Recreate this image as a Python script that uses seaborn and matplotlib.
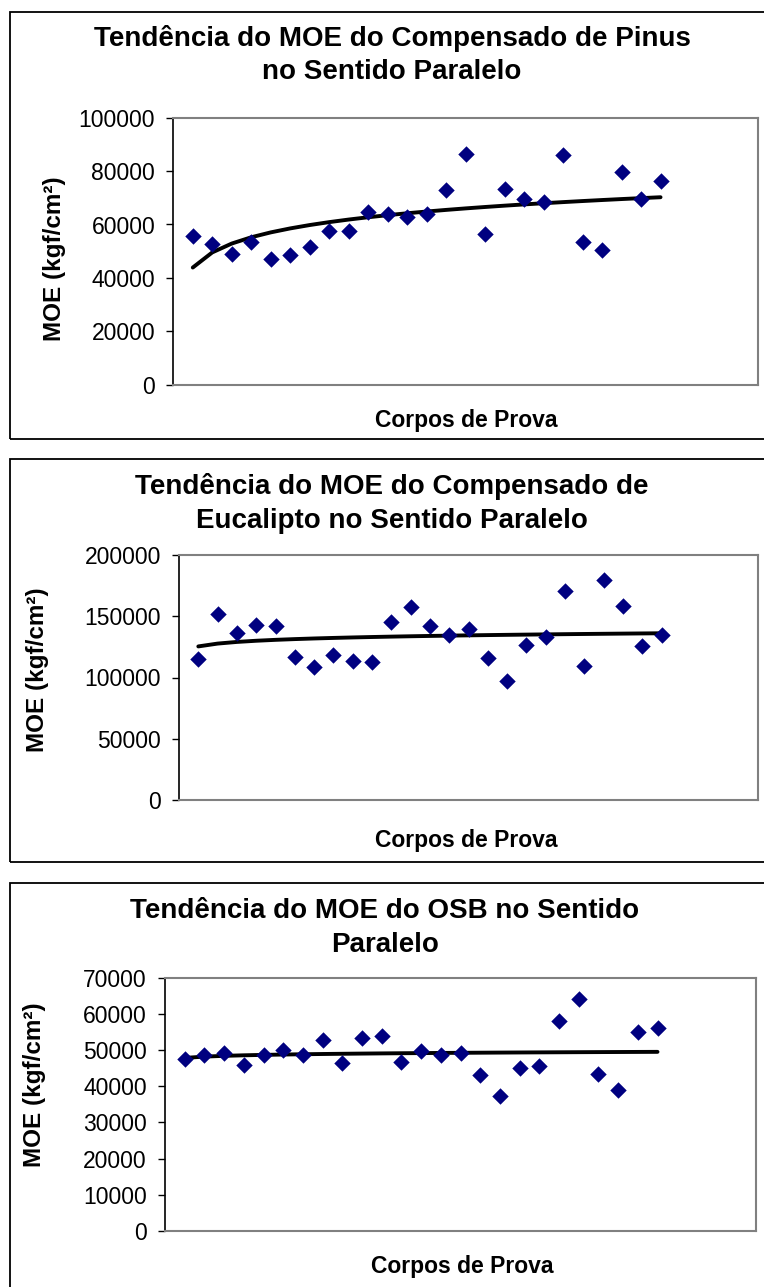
import numpy as np
import pandas as pd
import matplotlib
matplotlib.use("Agg")
import matplotlib.pyplot as plt
from matplotlib.patches import Rectangle
import seaborn as sns

sns.set_theme(style="white")
plt.rcParams['font.family'] = ['Liberation Sans', 'DejaVu Sans']
plt.rcParams['text.color'] = 'black'
plt.rcParams['ytick.color'] = 'black'
plt.rcParams['xtick.color'] = 'black'

# ---- data ----
corpos = list(range(1, 26))
moe_pinus = [55800, 52700, 48900, 53600, 47100, 48400, 51700, 57700, 57700, 64800,
             64000, 62700, 64000, 72800, 86400, 56600, 73400, 69400, 68400, 85900,
             53500, 50500, 79600, 69700, 76200]
moe_eucalipto = [115000, 152000, 136300, 142800, 142200, 116900, 108500, 118300, 113600, 112600,
                 144900, 157500, 142000, 134300, 139500, 116300, 97300, 126700, 133000, 170600,
                 109000, 179800, 158000, 125600, 135100]
moe_osb = [47500, 48700, 49300, 46000, 48600, 49900, 48700, 52800, 46500, 53400,
           53800, 46600, 49800, 48700, 49300, 43000, 37200, 45100, 45500, 58100,
           64200, 43500, 38900, 54900, 56000]

titles = ["Tendência do MOE do Compensado de Pinus\nno Sentido Paralelo",
          "Tendência do MOE do Compensado de\nEucalipto no Sentido Paralelo",
          "Tendência do MOE do OSB no Sentido\nParalelo"]
yticks_list = [[0, 20000, 40000, 60000, 80000, 100000],
               [0, 50000, 100000, 150000, 200000],
               [0, 10000, 20000, 30000, 40000, 50000, 60000, 70000]]
ylabel = "MOE (kgf/cm²)"
xlabel = "Corpos de Prova"

W, H = 764, 1287
fig = plt.figure(figsize=(W / 100, H / 100), dpi=100)

def fx(px):
    return px / W

def fy(py):
    return 1 - py / H

# layout in pixels (left, top, right, bottom) of plot areas
areas = [(173.3, 117.7, 758, 384.7), (179, 555, 758, 800), (165, 977.7, 756, 1231)]
boxes = [(10, 12, 770, 439), (10, 459, 770, 862), (10, 883, 770, 1295)]
title_y = [(38, 72), (487, 521), (911, 945)]
title_x = [392, 392, 385]
ylab_pos = [(54, 259), (38, 670), (35, 1085)]
xlab_pos = [(466, 420), (466, 841), (462, 1267)]

datasets = [moe_pinus, moe_eucalipto, moe_osb]

for i, vals in enumerate(datasets):
    # outer border
    bx0, by0, bx1, by1 = boxes[i]
    fig.patches.append(Rectangle((fx(bx0), fy(by1)), fx(bx1 - bx0), (by1 - by0) / H,
                                 transform=fig.transFigure, fill=False,
                                 edgecolor='black', linewidth=1.3, zorder=0))
    l, t, r, b = areas[i]
    ax = fig.add_axes([fx(l), fy(b), fx(r - l), (b - t) / H])
    df = pd.DataFrame({"corpo": corpos, "moe": vals})
    x = np.array(corpos, dtype=float)
    coef = np.polyfit(np.log(x), np.array(vals, dtype=float), 1)
    trend = pd.DataFrame({"corpo": x, "trend": coef[0] * np.log(x) + coef[1]})
    sns.lineplot(data=trend, x="corpo", y="trend", ax=ax, color='black',
                 linewidth=2.8, zorder=2)
    sns.scatterplot(data=df, x="corpo", y="moe", ax=ax, marker='D', s=70,
                    color='#000080', linewidth=0, zorder=3)
    yt = yticks_list[i]
    ax.set_xlim(0, 30)
    ax.set_ylim(yt[0], yt[-1])
    ax.set_yticks(yt)
    ax.set_yticklabels([str(v) for v in yt], fontsize=16.5)
    ax.set_xticks([])
    ax.set_xlabel("")
    ax.set_ylabel("")
    ax.tick_params(axis='y', direction='out', length=5, width=1, color='black',
                   left=True, pad=8)
    for s in ['top', 'right', 'bottom']:
        ax.spines[s].set_color('#808080')
        ax.spines[s].set_linewidth(1.5)
    ax.spines['left'].set_color('black')
    ax.spines['left'].set_linewidth(1.2)
    # title
    l1, l2 = titles[i].split("\n")
    fig.text(fx(title_x[i]), fy(title_y[i][0]), l1, ha='center', va='center',
             fontsize=20, fontweight='bold')
    fig.text(fx(title_x[i]), fy(title_y[i][1]), l2, ha='center', va='center',
             fontsize=20, fontweight='bold')
    fig.text(fx(ylab_pos[i][0]), fy(ylab_pos[i][1]), ylabel, ha='center', va='center',
             rotation=90, fontsize=17.5, fontweight='bold')
    fig.text(fx(xlab_pos[i][0]), fy(xlab_pos[i][1]), xlabel, ha='center', va='center',
             fontsize=16.5, fontweight='bold')

fig.savefig("out.png", dpi=100)
